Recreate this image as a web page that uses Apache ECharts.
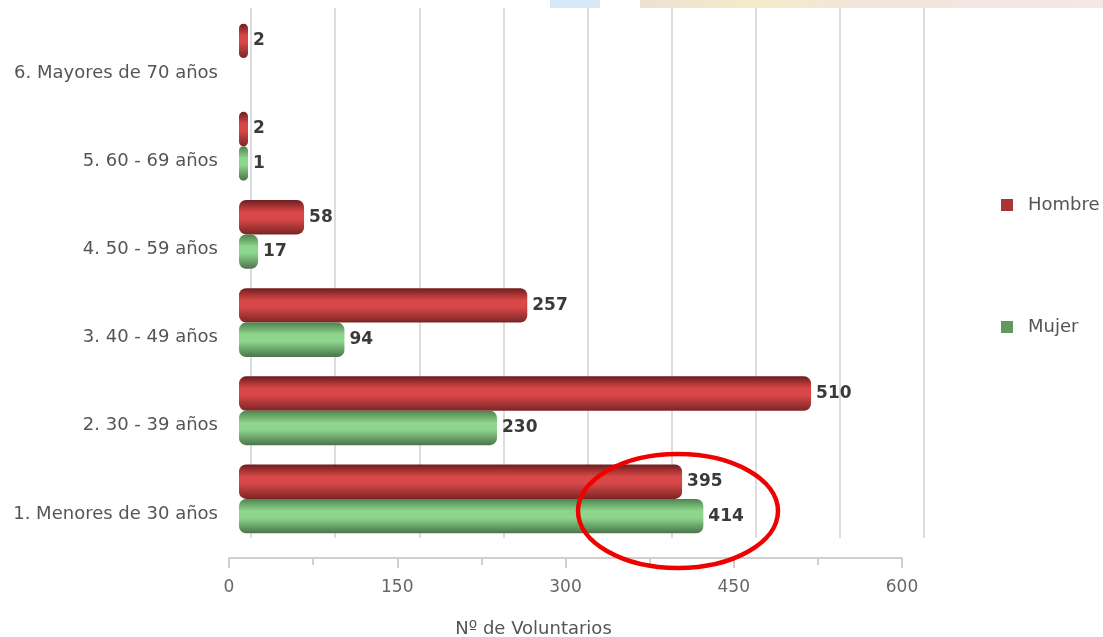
<!DOCTYPE html>
<html><head><meta charset="utf-8">
<script src="https://cdn.jsdelivr.net/npm/echarts@6/dist/echarts.min.js"></script>
<style>html,body{margin:0;padding:0;background:#fff}#c{width:1103px;height:637px}</style>
</head><body><div id="c"></div>
<script>
const categories = ['1. Menores de 30 años','2. 30 - 39 años','3. 40 - 49 años','4. 50 - 59 años','5. 60 - 69 años','6. Mayores de 70 años'];
const hombre = [395, 510, 257, 58, 2, 2];
const mujer = [414, 230, 94, 17, 1, null];
const xTicks = [0, 150, 300, 450, 600];
const seriesNames = ['Hombre', 'Mujer'];
const axisTitle = 'Nº de Voluntarios';

const FONT = 'DejaVu Sans';
const xMin = xTicks[0], xMax = xTicks[xTicks.length - 1];
const step = xTicks[1] - xTicks[0];

function cyl(dark1, light, dark2) {
  return new echarts.graphic.LinearGradient(0, 0, 0, 1, [
    {offset: 0, color: dark1},
    {offset: 0.35, color: light},
    {offset: 0.55, color: light},
    {offset: 1, color: dark2}
  ]);
}
const redGrad = cyl('#6e1d1d', '#d94848', '#7a2525');
const greenGrad = cyl('#4d834d', '#8ed58e', '#4a754a');

const chart = echarts.init(document.getElementById('c'), null, {renderer: 'canvas'});
const barLabel = {show: true, position: 'right', distance: 5, fontFamily: FONT, fontWeight: 'bold', fontSize: 17, color: '#3a3a3a'};

chart.setOption({
  animation: false,
  backgroundColor: '#fff',
  grid: [
    {left: 239, width: 673, top: 14, height: 529, outerBoundsMode: 'none', containLabel: false},   // bars
    {left: 229, width: 673, top: 29, height: 529, outerBoundsMode: 'none', containLabel: false},   // axis + category labels
    {left: 251, width: 673, top: 8, height: 530, outerBoundsMode: 'none', containLabel: false}     // back-wall grid lines
  ],
  xAxis: [
    {gridIndex: 0, type: 'value', min: xMin, max: xMax, show: false},
    {gridIndex: 1, type: 'value', min: xMin, max: xMax, interval: step,
      axisLine: {show: true, lineStyle: {color: '#cfcfcf', width: 2}},
      axisTick: {show: true, length: 10, lineStyle: {color: '#cfcfcf', width: 2}},
      minorTick: {show: true, splitNumber: 2, length: 7, lineStyle: {color: '#cfcfcf', width: 2}},
      splitLine: {show: false},
      axisLabel: {margin: 21, fontFamily: FONT, fontSize: 17, color: '#666', formatter: v => String(v)},
      name: axisTitle, nameLocation: 'middle', nameGap: 62,
      nameTextStyle: {fontFamily: FONT, fontSize: 18, color: '#555', padding: [0, 64, 0, 0]}
    },
    {gridIndex: 2, type: 'value', min: xMin, max: xMax, interval: step / 2,
      axisLine: {show: false}, axisTick: {show: false}, axisLabel: {show: false},
      splitLine: {show: true, lineStyle: {color: '#d2d2d2', width: 1.5}}
    }
  ],
  yAxis: [
    {gridIndex: 0, type: 'category', data: categories, show: false},
    {gridIndex: 1, type: 'category', data: categories,
      axisLine: {show: false}, axisTick: {show: false}, splitLine: {show: false},
      axisLabel: {margin: 11, fontFamily: FONT, fontSize: 18, color: '#555'}
    },
    {gridIndex: 2, type: 'category', data: categories, show: false}
  ],
  legend: {
    orient: 'vertical', left: 996, top: 191, itemWidth: 12, itemHeight: 12, itemGap: 104,
    icon: 'rect',
    textStyle: {fontFamily: FONT, fontSize: 18, color: '#555', padding: [0, 0, 0, 10]},
    data: [
      {name: seriesNames[0], itemStyle: {color: '#a83434'}},
      {name: seriesNames[1], itemStyle: {color: '#5f9a5f'}}
    ]
  },
  series: [
    {name: seriesNames[0], type: 'bar', xAxisIndex: 0, yAxisIndex: 0, data: hombre,
      barGap: '0%', barCategoryGap: '22%', barMinHeight: 9,
      itemStyle: {color: redGrad, borderRadius: 7}, label: barLabel},
    {name: seriesNames[1], type: 'bar', xAxisIndex: 0, yAxisIndex: 0, data: mujer,
      barGap: '0%', barCategoryGap: '22%', barMinHeight: 9,
      itemStyle: {color: greenGrad, borderRadius: 7}, label: barLabel}
  ],
  graphic: [
    {type: 'rect', left: 550, top: 0, shape: {width: 50, height: 8}, style: {fill: '#d6e8f6'}, silent: true},
    {type: 'rect', left: 640, top: 0, shape: {width: 463, height: 8}, silent: true,
      style: {fill: new echarts.graphic.LinearGradient(0, 0, 1, 0, [
        {offset: 0, color: '#efe0d2'}, {offset: 0.25, color: '#f6ebc8'}, {offset: 0.5, color: '#f3e4dc'}, {offset: 1, color: '#f4e8e4'}
      ])}},
    {type: 'ellipse', z: 100, silent: true, shape: {cx: 678, cy: 511, rx: 100, ry: 57},
      style: {fill: 'none', stroke: '#f00000', lineWidth: 4.5}}
  ]
});
</script></body></html>
